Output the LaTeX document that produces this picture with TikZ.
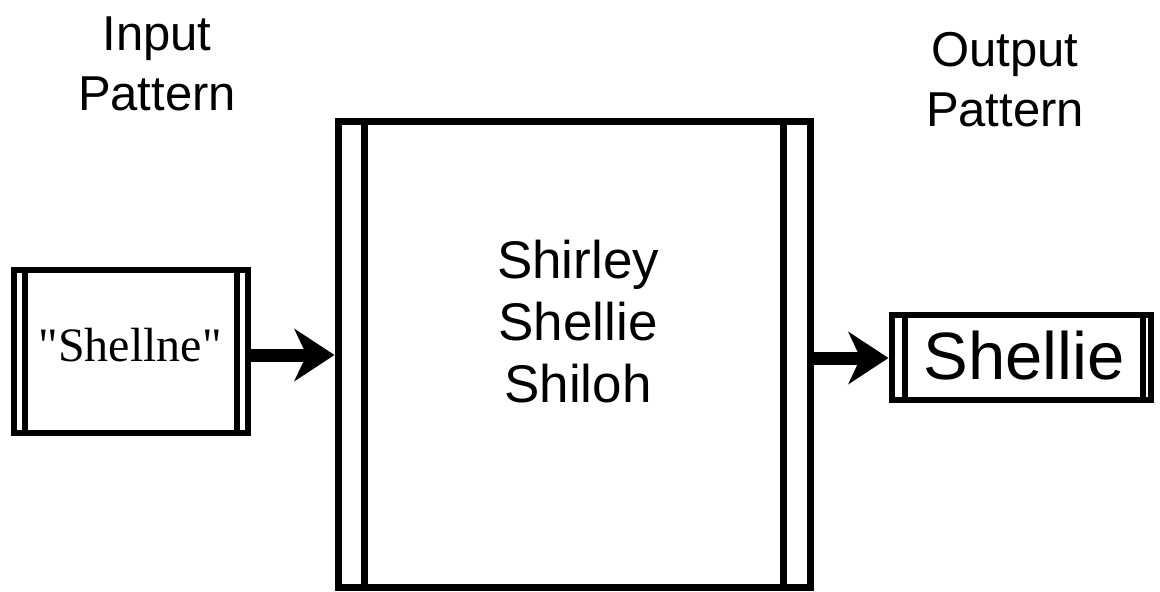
\documentclass[tikz,border=0pt]{standalone}
\usepackage{fontspec}
\setmainfont{Liberation Sans}
\newfontfamily\timesfont{Liberation Serif}
\usetikzlibrary{arrows.meta}
\begin{document}
\begin{tikzpicture}[x=1pt,y=-1pt,
  boxstyle/.style={draw=black,fill=white,inner sep=0pt},
  conn/.style={line width=13pt,-{Stealth[length=40pt,width=52pt,inset=12pt]}},
  label/.style={align=center,font=\fontsize{49}{60}\selectfont}]
\useasboundingbox (0,0) rectangle (1160,592);
% main box
\node[boxstyle,line width=7pt,minimum width=472pt,minimum height=466pt] (main) at (574,354) {};
\draw[line width=7pt] ([xshift=30pt]main.north west) -- ([xshift=30pt]main.south west);
\draw[line width=7pt] ([xshift=-30pt]main.north east) -- ([xshift=-30pt]main.south east);
\node[align=center,font=\fontsize{53}{62}\selectfont] (names) at (578,322) {Shirley\\Shellie\\Shiloh};
% input box
\node[boxstyle,line width=6pt,minimum width=234pt,minimum height=163pt] (in) at (131,351.5) {};
\draw[line width=6pt] ([xshift=14pt]in.north west) -- ([xshift=14pt]in.south west);
\draw[line width=6pt] ([xshift=-14pt]in.north east) -- ([xshift=-14pt]in.south east);
\node[font=\timesfont\fontsize{48}{50}\selectfont] (intext) at (130,345) {"Shellne"};
% output box
\node[boxstyle,line width=6pt,minimum width=259pt,minimum height=85pt] (out) at (1021,357.5) {};
\draw[line width=6pt] ([xshift=16pt]out.north west) -- ([xshift=16pt]out.south west);
\draw[line width=6pt] ([xshift=-11pt]out.north east) -- ([xshift=-11pt]out.south east);
\node[font=\fontsize{67}{70}\selectfont] (outtext) at (1024,356) {Shellie};
% labels
\node[label] (inlabel) at (157,64) {Input\\Pattern};
\node[label] (outlabel) at (1005,80) {Output\\Pattern};
% connectors
\draw[conn] (in.east |- 0,355) -- (main.west |- 0,355);
\draw[conn] (main.east |- 0,358) -- (out.west |- 0,358);
\end{tikzpicture}
\end{document}
